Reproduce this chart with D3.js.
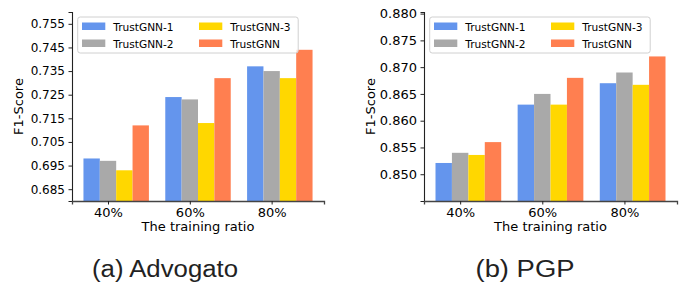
<!DOCTYPE html>
<html>
<head>
<meta charset="utf-8">
<script src="https://cdn.jsdelivr.net/npm/d3@7"></script>
<style>
  body { margin: 0; background: #fff; }
  svg text { font-family: "DejaVu Sans", sans-serif; fill: #000; }
  .cap { font-family: "Liberation Sans", Arial, sans-serif; fill: #222; }
</style>
</head>
<body>
<script>
// categories and series
var ratios = ["40%", "60%", "80%"];
var series = ["TrustGNN-1", "TrustGNN-2", "TrustGNN-3", "TrustGNN"];
var colors = ["#6495ED", "#A9A9A9", "#FFD700", "#FF7F50"];

// values, one array per series
var advogato1 = [0.698, 0.724, 0.737];
var advogato2 = [0.697, 0.723, 0.735];
var advogato3 = [0.693, 0.713, 0.732];
var advogatoAll = [0.712, 0.732, 0.744];

var pgp1 = [0.8521, 0.863, 0.867];
var pgp2 = [0.854, 0.865, 0.869];
var pgp3 = [0.8536, 0.863, 0.8667];
var pgpAll = [0.856, 0.868, 0.872];

var advogatoTicks = [0.685, 0.695, 0.705, 0.715, 0.725, 0.735, 0.745, 0.755];
var pgpTicks = [0.850, 0.855, 0.860, 0.865, 0.870, 0.875, 0.880];

var width = 688, height = 285;

const svg = d3.select("body").append("svg")
  .attr("width", width).attr("height", height);

function panel(opt) {
  const g = svg.append("g");
  const bw = 0.2;
  const x = d3.scaleLinear().domain([-0.24, 2.84]).range([opt.x0, opt.x1]);
  const y = d3.scaleLinear().domain(opt.domain).range([201, 12]);

  // bars
  opt.data.forEach(function (vals, s) {
    g.selectAll(null).data(vals).enter().append("rect")
      .attr("x", (d, i) => x(i + s * bw - bw / 2))
      .attr("width", x(bw) - x(0))
      .attr("y", d => y(d))
      .attr("height", d => y(opt.domain[0]) - y(d))
      .attr("fill", colors[s]);
  });

  // y axis
  const ya = d3.axisLeft(y).tickValues(opt.ticks).tickFormat(d3.format(".3f"))
    .tickSize(3.5).tickPadding(3.5);
  const yg = g.append("g").attr("transform", "translate(" + opt.x0 + ",0)").call(ya);
  yg.select(".domain").attr("stroke", "#222").attr("stroke-width", 1.1);
  yg.selectAll(".tick line").attr("stroke", "#222");
  yg.selectAll("text").style("font-size", opt.yFont + "px").attr("fill", "#000");

  // x axis
  const xa = d3.axisBottom(x).tickValues([0, 1, 2].map(i => i + bw))
    .tickFormat((d, i) => ratios[i]).tickSize(3.5).tickPadding(3);
  const xg = g.append("g").attr("transform", "translate(0,201)").call(xa);
  xg.select(".domain").attr("stroke", "#444").attr("stroke-width", 1.3);
  xg.selectAll(".tick line").attr("stroke", "#222");
  xg.selectAll("text").style("font-size", "13px").attr("fill", "#000");

  // axis titles
  g.append("text")
    .attr("transform", "translate(" + (opt.x0 - 49) + ",106.5) rotate(-90)")
    .attr("text-anchor", "middle").style("font-size", "13px")
    .text("F1-Score");
  g.append("text")
    .attr("x", (opt.x0 + opt.x1) / 2).attr("y", 231)
    .attr("text-anchor", "middle").style("font-size", "13px")
    .text("The training ratio");

  // legend
  const lx = opt.x0 + 5.7;
  const lg = g.append("g").attr("transform", "translate(" + lx + ",17)");
  lg.append("rect").attr("width", 220.5).attr("height", 36).attr("rx", 2.5)
    .attr("fill", "#fff").attr("fill-opacity", 0.8)
    .attr("stroke", "#d0d0d0").attr("stroke-width", 1);
  series.forEach(function (name, s) {
    const col = s < 2 ? 0 : 1, row = s % 2;
    const px = 4.3 + col * 117, py = 5.5 + row * 17;
    lg.append("rect").attr("x", px).attr("y", py).attr("width", 23.3).attr("height", 7.5)
      .attr("fill", colors[s]);
    lg.append("text").attr("x", px + 31.3).attr("y", py + 8.3)
      .style("font-size", "10.6px").text(name);
  });

  // caption
  svg.append("text").attr("class", "cap")
    .attr("x", opt.capX).attr("y", 276.5).attr("text-anchor", "middle")
    .attr("textLength", opt.capW).attr("lengthAdjust", "spacingAndGlyphs")
    .style("font-size", "23px").text(opt.caption);
}

panel({
  x0: 72, x1: 324, domain: [0.68, 0.76], ticks: advogatoTicks, yFont: 12,
  data: [advogato1, advogato2, advogato3, advogatoAll],
  caption: "(a) Advogato", capX: 165, capW: 146
});

panel({
  x0: 424, x1: 677, domain: [0.845, 0.8803], ticks: pgpTicks, yFont: 13,
  data: [pgp1, pgp2, pgp3, pgpAll],
  caption: "(b) PGP", capX: 525, capW: 99
});
</script>
</body>
</html>
